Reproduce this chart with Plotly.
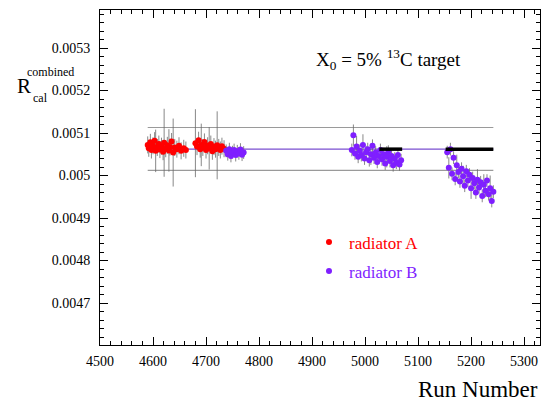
import plotly.graph_objects as go

# ---------------- data ----------------
runs_A = [4590, 4592, 4595, 4597, 4600, 4603, 4605, 4608, 4611, 4613, 4616, 4619, 4621,
          4624, 4627, 4630, 4632, 4635, 4638, 4641, 4645, 4649, 4653, 4658, 4662,
          4680, 4683, 4686, 4689, 4691, 4694, 4697, 4700, 4703, 4706, 4709, 4712, 4715,
          4718, 4721, 4724, 4727, 4730, 4734]
vals_A = [0.005072, 0.005064, 0.005078, 0.005060, 0.005070, 0.005082, 0.005058, 0.005066,
          0.005074, 0.005061, 0.005069, 0.005056, 0.005077, 0.005063, 0.005071, 0.005059,
          0.005067, 0.005080, 0.005054, 0.005066, 0.005062, 0.005070, 0.005058, 0.005064,
          0.005060,
          0.005076, 0.005068, 0.005083, 0.005062, 0.005072, 0.005066, 0.005079, 0.005060,
          0.005070, 0.005064, 0.005074, 0.005057, 0.005068, 0.005062, 0.005071, 0.005066,
          0.005060, 0.005069, 0.005063]
errs_A = [0.00002, 0.00002, 0.00002, 0.00002, 0.00002, 0.00002, 0.00005, 0.00002,
          0.00002, 0.00002, 0.00002, 0.00002, 0.00008, 0.00002, 0.00002, 0.00005,
          0.00002, 0.00002, 0.00008, 0.00002, 0.00002, 0.00002, 0.00002, 0.00002,
          0.00002,
          0.00008, 0.00002, 0.00002, 0.00002, 0.00005, 0.00002, 0.00002, 0.00002,
          0.00002, 0.00005, 0.00002, 0.00002, 0.00002, 0.00002, 0.00008, 0.00002,
          0.00002, 0.00002, 0.00002]

runs_B = [4738, 4741, 4744, 4747, 4750, 4753, 4756, 4759, 4762, 4765, 4768, 4771,
          4975, 4978, 4981, 4984, 4987, 4990, 4993, 4996, 4999, 5002, 5005, 5008, 5011,
          5014, 5017, 5020, 5023, 5026, 5029, 5032, 5035, 5038, 5041, 5044, 5047, 5050,
          5053, 5056, 5059, 5062, 5065, 5068,
          5155, 5158, 5161, 5164, 5167, 5170, 5173, 5176, 5179, 5182, 5185, 5188, 5191,
          5194, 5197, 5200, 5203, 5206, 5209, 5212, 5215, 5218, 5221, 5224, 5227, 5230,
          5233, 5236, 5239, 5242]
vals_B = [0.005058, 0.005050, 0.005062, 0.005046, 0.005055, 0.005060, 0.005048, 0.005057,
          0.005052, 0.005061, 0.005049, 0.005054,
          0.005060, 0.005095, 0.005052, 0.005068, 0.005044, 0.005058, 0.005048, 0.005072,
          0.005040, 0.005055, 0.005062, 0.005036, 0.005050, 0.005070, 0.005042, 0.005054,
          0.005032, 0.005046, 0.005060, 0.005038, 0.005050, 0.005028, 0.005044, 0.005056,
          0.005034, 0.005046, 0.005024, 0.005040, 0.005030, 0.005048, 0.005026, 0.005036,
          0.005055, 0.005018, 0.005062, 0.005004, 0.005042, 0.004992, 0.005024, 0.005008,
          0.004986, 0.005016, 0.004998, 0.004976, 0.005010, 0.004988, 0.005002, 0.004970,
          0.004994, 0.004982, 0.004960, 0.004990, 0.004972, 0.004984, 0.004952, 0.004978,
          0.004964, 0.004988, 0.004956, 0.004970, 0.004940, 0.004962]
errs_B = [0.000015, 0.000015, 0.000015, 0.000015, 0.000015, 0.000015, 0.000015, 0.000015,
          0.000015, 0.000015, 0.000015, 0.000015,
          0.000015, 0.000025, 0.000015, 0.000025, 0.000015, 0.000015, 0.000015, 0.000025,
          0.000015, 0.000015, 0.000015, 0.000015, 0.000025, 0.000015, 0.000015, 0.000015,
          0.000015, 0.000015, 0.000015, 0.000015, 0.000015, 0.000015, 0.000025, 0.000015,
          0.000015, 0.000015, 0.000015, 0.000015, 0.000015, 0.000015, 0.000015, 0.000015,
          0.000015, 0.000025, 0.000015, 0.000015, 0.000015, 0.000015, 0.000025, 0.000015,
          0.000015, 0.000015, 0.000025, 0.000015, 0.000015, 0.000015, 0.000015, 0.000025,
          0.000015, 0.000015, 0.000015, 0.000025, 0.000015, 0.000015, 0.000015, 0.000025,
          0.000015, 0.000015, 0.000015, 0.000030, 0.000015, 0.000015]

band_runs = [4590, 5242]
mean_level = 0.005062
upper_level = 0.005113
lower_level = 0.005012
black_segments = [[5027, 5070], [5152, 5242]]

x_tickvals = [4500, 4600, 4700, 4800, 4900, 5000, 5100, 5200, 5300]
x_ticktext = ["4500", "4600", "4700", "4800", "4900", "5000", "5100", "5200", "5300"]
y_tickvals = [0.0047, 0.0048, 0.0049, 0.0050, 0.0051, 0.0052, 0.0053]
y_ticktext = ["0.0047", "0.0048", "0.0049", "0.005", "0.0051", "0.0052", "0.0053"]

RED = "#ff0000"
PURPLE = "#7f1fff"
ERRCOL = "#6a6a6a"
SERIF = "Liberation Serif"

fig = go.Figure()

# reference band lines
for lvl, col in [(upper_level, "#9a9a9a"), (lower_level, "#9a9a9a"), (mean_level, "#7a4fd0")]:
    fig.add_trace(go.Scatter(x=band_runs, y=[lvl, lvl], mode="lines",
                             line=dict(color=col, width=1.2), showlegend=False,
                             hoverinfo="skip"))

fig.add_trace(go.Scatter(
    x=runs_A, y=vals_A, mode="markers", name='<span style="color:#ff0000">radiator A</span>',
    legendgroup="A",
    marker=dict(color=RED, size=6),
    error_y=dict(type="data", array=errs_A, color=ERRCOL, thickness=0.8, width=0)))

fig.add_trace(go.Scatter(
    x=runs_B, y=vals_B, mode="markers", name='<span style="color:#7f1fff">radiator B</span>',
    legendgroup="B",
    marker=dict(color=PURPLE, size=6),
    error_y=dict(type="data", array=errs_B, color=ERRCOL, thickness=0.8, width=0)))

for seg in black_segments:
    fig.add_trace(go.Scatter(x=seg, y=[mean_level, mean_level], mode="lines",
                             line=dict(color="black", width=3.5), showlegend=False,
                             hoverinfo="skip"))

fig.add_annotation(x=0.655, y=0.90, xref="paper", yref="paper",
                   text="X<sub>0</sub> = 5% <sup>13</sup>C target", showarrow=False,
                   font=dict(family=SERIF, size=19, color="black"))

# y-axis title: R with stacked super/subscript (px positions -> paper)
fig.add_annotation(x=(24 - 100) / 440, y=1 - (86 - 10) / 335, xref="paper", yref="paper",
                   text="R", showarrow=False, xanchor="center", yanchor="middle",
                   font=dict(family=SERIF, size=21, color="black"))
fig.add_annotation(x=(50 - 100) / 440, y=1 - (72 - 10) / 335, xref="paper", yref="paper",
                   text="combined", showarrow=False, xanchor="center", yanchor="middle",
                   font=dict(family=SERIF, size=12, color="black"))
fig.add_annotation(x=(40 - 100) / 440, y=1 - (98 - 10) / 335, xref="paper", yref="paper",
                   text="cal", showarrow=False, xanchor="center", yanchor="middle",
                   font=dict(family=SERIF, size=12, color="black"))

fig.add_annotation(x=1.0, y=-0.134, xref="paper", yref="paper", text="Run Number",
                   showarrow=False, xanchor="right", yanchor="middle",
                   font=dict(family=SERIF, size=23, color="black"))

axis_common = dict(showline=True, linecolor="black", linewidth=1, mirror="ticks",
                   ticks="inside", ticklen=8, tickcolor="black", showgrid=False,
                   zeroline=False, tickfont=dict(family=SERIF, size=14, color="black"))

fig.update_layout(
    width=542, height=402,
    margin=dict(l=100, r=2, t=10, b=57),
    paper_bgcolor="white", plot_bgcolor="white",
    showlegend=True,
    legend=dict(x=0.475, y=0.36, xanchor="left", yanchor="top", bgcolor="rgba(0,0,0,0)",
                font=dict(family=SERIF, size=17), tracegroupgap=4),
    xaxis=dict(range=[4500, 5330], tickmode="array", tickvals=x_tickvals,
               ticktext=x_ticktext, ticklabelstandoff=3,
               minor=dict(dtick=20, tick0=4500, ticks="inside", ticklen=4,
                          tickcolor="black"),
               **axis_common),
    yaxis=dict(range=[0.0046012, 0.0053894], tickmode="array", tickvals=y_tickvals,
               ticktext=y_ticktext, ticklabelstandoff=6,
               minor=dict(dtick=0.00002, tick0=0.0047, ticks="inside", ticklen=4,
                          tickcolor="black"),
               **axis_common),
)

fig.write_html("out.html")
